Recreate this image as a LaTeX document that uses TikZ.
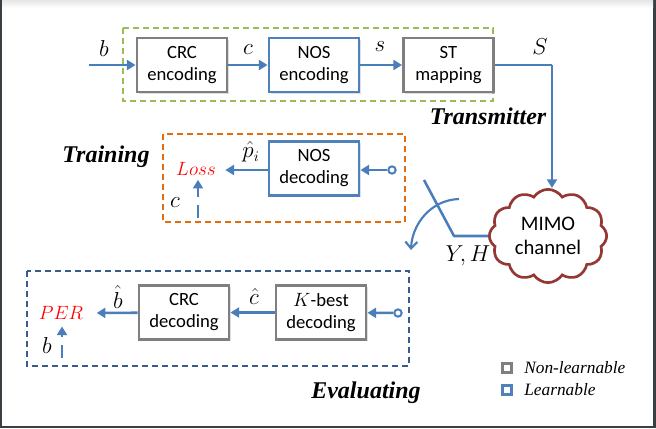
\documentclass[tikz,border=0pt]{standalone}
\usepackage{fontspec}
\setmainfont{Carlito}
\newfontfamily\serif{Liberation Serif}
\usetikzlibrary{arrows.meta,shapes.symbols,shadows}
\definecolor{boxgray}{HTML}{7F7F7F}
\definecolor{boxblue}{HTML}{4F81BD}
\definecolor{arrblue}{HTML}{4A7EBB}
\definecolor{dgreen}{HTML}{9BBB59}
\definecolor{dorange}{HTML}{E46C0A}
\definecolor{dnavy}{HTML}{385D8A}
\definecolor{cloudred}{HTML}{953735}
\definecolor{framec}{HTML}{3A3F44}
\tikzset{
  blk/.style={draw, fill=white, line width=2.2pt, minimum width=67.5pt, minimum height=40.5pt,
    align=center, font=\fontsize{14}{16.5}\selectfont, inner sep=1pt,
    drop shadow={opacity=0.25, shadow xshift=1.2pt, shadow yshift=-1.2pt}},
  grayblk/.style={blk, draw=boxgray},
  blueblk/.style={blk, draw=boxblue},
  arr/.style={draw=arrblue, line width=1.9pt, -{Triangle[length=6.5pt,width=7.5pt]}},
  ln/.style={draw=arrblue, line width=1.9pt},
  dbox/.style={line width=1.5pt, dash pattern=on 4.5pt off 3pt},
  incirc/.style={circle, draw=arrblue, fill=white, line width=1.5pt, minimum size=5.5pt, inner sep=0pt},
  lbl/.style={font=\fontsize{16}{18}\selectfont, inner sep=0pt},
  redlbl/.style={text=red, inner sep=0pt},
  ttl/.style={font=\serif\bfseries\itshape\fontsize{18}{20}\selectfont, inner sep=0pt},
  legsq/.style={draw, fill=white, line width=2pt, minimum size=7pt, inner sep=0pt,
    drop shadow={opacity=0.3, shadow xshift=0.8pt, shadow yshift=-0.8pt}},
  legtxt/.style={anchor=west, inner sep=0pt, font=\serif\itshape\fontsize{13}{15}\selectfont},
}
\begin{document}
\begin{tikzpicture}[x=0.75pt,y=-0.75pt]
% frame
\fill[framec] (0,0) rectangle (656,428);
\fill[white] (2,0) rectangle (653,426);
\fill[top color=black!10, bottom color=white] (2,0) rectangle (653,8);
\useasboundingbox (0,0) rectangle (656,428);

% ---------- Transmitter ----------
\draw[dbox, draw=dgreen] (123,28) rectangle (493,101);
\node[grayblk] (crcenc) at (182,65) {CRC\\encoding};
\node[blueblk] (nosenc) at (314,65) {NOS\\encoding};
\node[grayblk] (stmap) at (448.5,65) {ST\\mapping};
\coordinate (bin) at (89,65);
\node[lbl] (lb) at (104,48) {$b$};
\node[lbl] (lc) at (248,50) {$c$};
\node[lbl] (ls) at (380,47) {$s$};
\node[lbl] (lS) at (540,47) {$S$};
\draw[arr] (bin) -- (crcenc);
\draw[arr] (crcenc) -- (nosenc);
\draw[arr] (nosenc) -- (stmap);
\node[ttl] (ttx) at (488,116) {Transmitter};

% ---------- Channel ----------
\node[cloud, cloud puffs=12, cloud puff arc=115, aspect=1.3, draw=cloudred, fill=white,
  line width=2pt, minimum width=88pt, minimum height=70pt, align=center,
  font=\fontsize{15.5}{18}\selectfont, inner sep=0pt] (chan) at (548,236) {MIMO\\channel};
\coordinate (sturn) at (552,65);
\draw[ln] (stmap.east) -- (sturn);
\draw[arr] (sturn) -- (sturn |- chan.north);
\coordinate (yh1) at (454,236);
\coordinate (yh2) at (424,180);
\draw[ln, line join=round] (chan.west) -- (yh1) -- (yh2);
\node[lbl] (lYH) at (468,256) {$Y,H$};
\coordinate (sw1) at (459,199);
\coordinate (sw2) at (411,250);
\draw[draw=arrblue, line width=1.6pt, -{Straight Barb[length=5pt,width=9pt]}]
  (sw1) .. controls (430,200) and (412,225) .. (sw2);

% ---------- Training ----------
\draw[dbox, draw=dorange] (163,134) rectangle (405,222);
\node[ttl] (ttr) at (106,157) {Training};
\node[blueblk] (nosdec) at (314,168.5) {NOS\\decoding};
\node[redlbl, font=\fontsize{15.5}{17}\selectfont] (loss) at (196,169) {$Loss$};
\node[incirc] (tin) at (392,170) {};
\draw[arr] (tin) -- (nosdec.east |- tin);
\draw[arr, shorten >=7pt] (nosdec.west |- tin) -- (loss.east |- tin);
\node[lbl] (lp) at (251,152) {$\hat{p}_i$};
\node[lbl] (lc2) at (175,203) {$c$};
\coordinate (cin) at (198,218);
\draw[arr, dash pattern=on 10pt off 6pt, shorten >=3pt] (cin) -- (cin |- loss.south);

% ---------- Evaluating ----------
\draw[dbox, draw=dnavy] (27,271) rectangle (409,366);
\node[grayblk] (crcdec) at (184,312.5) {CRC\\decoding};
\node[grayblk] (kbest) at (321,312.5) {$K$-best\\decoding};
\node[redlbl, font=\fontsize{14}{16}\selectfont] (per) at (61,313) {$PER$};
\node[incirc] (ein) at (398,313) {};
\draw[arr] (ein) -- (kbest);
\draw[arr] (kbest) -- (crcdec);
\draw[arr, shorten >=10pt] (crcdec) -- (per.east);
\node[lbl] (lbh) at (118,297) {$\hat{b}$};
\node[lbl] (lch) at (254,296) {$\hat{c}$};
\node[lbl] (lb2) at (47,345) {$b$};
\coordinate (bin2) at (62,358);
\draw[arr, dash pattern=on 10pt off 6pt, shorten >=5pt] (bin2) -- (bin2 |- per.south);
\node[ttl] (tev) at (366,393) {Evaluating};

% ---------- Legend ----------
\node[legsq, draw=boxgray] (lg1) at (507,368) {};
\node[legsq, draw=boxblue] (lg2) at (507,390) {};
\node[legtxt] (lt1) at (524,368) {Non-learnable};
\node[legtxt] (lt2) at (524,390) {Learnable};
\end{tikzpicture}
\end{document}
